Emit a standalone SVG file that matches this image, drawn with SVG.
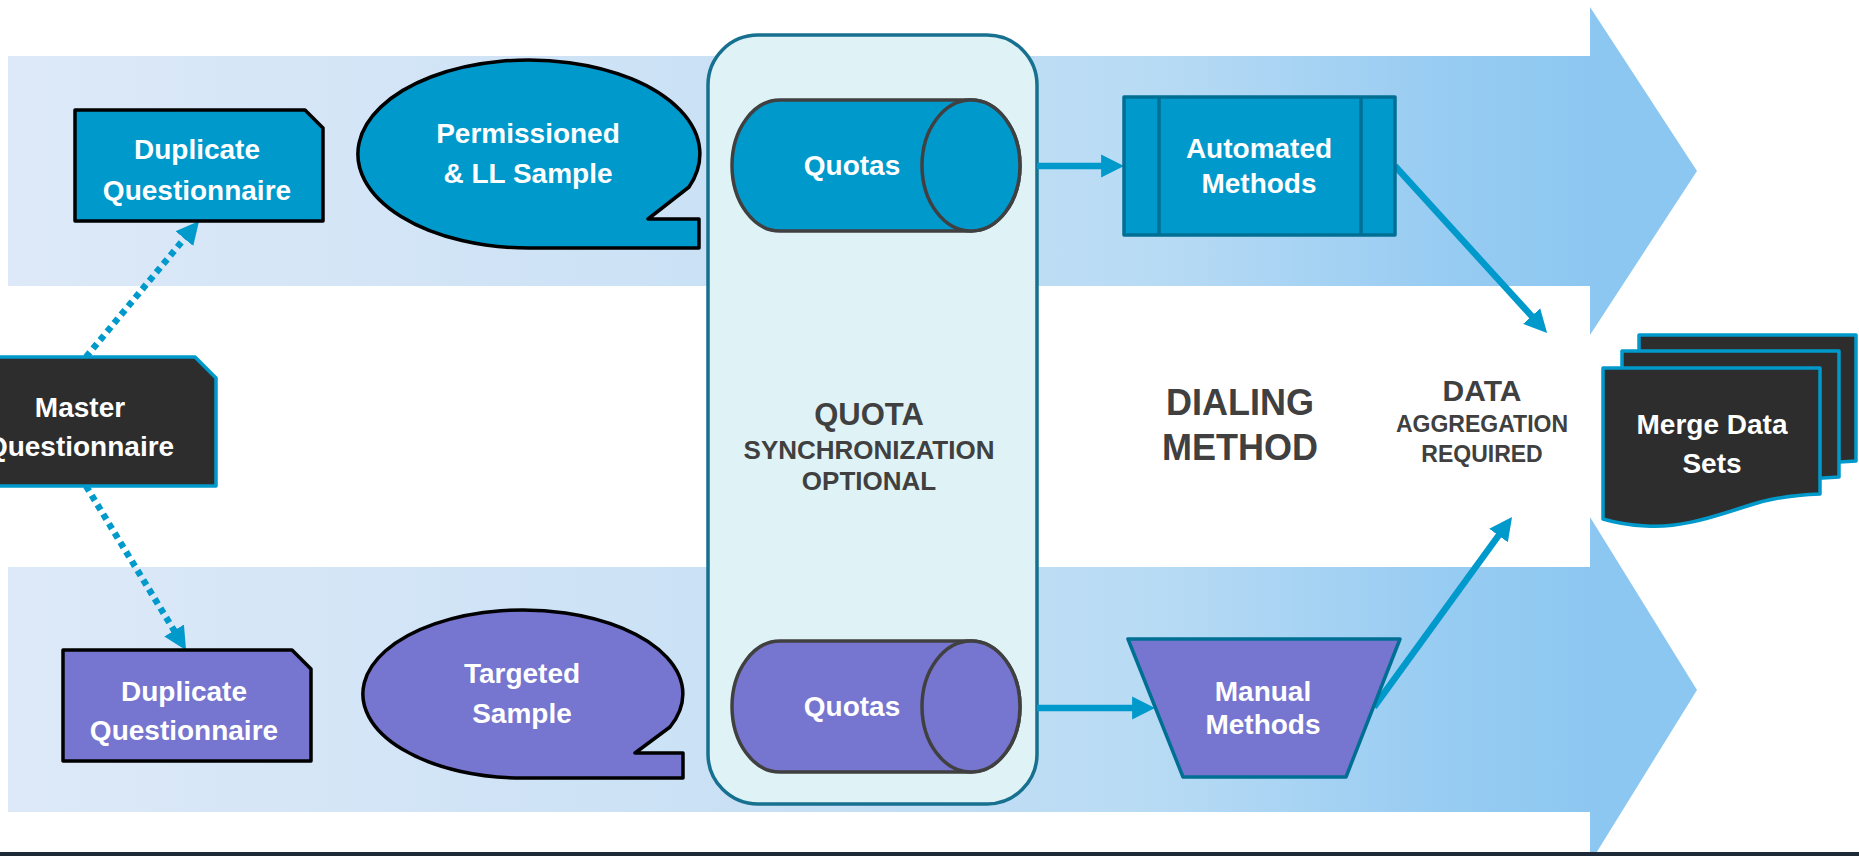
<svg xmlns="http://www.w3.org/2000/svg" width="1859" height="856" viewBox="0 0 1859 856">
<defs>
<linearGradient id="band" gradientUnits="userSpaceOnUse" x1="8" y1="0" x2="1600" y2="0">
<stop offset="0" stop-color="#dde9f8"/>
<stop offset="0.45" stop-color="#cae1f5"/>
<stop offset="0.72" stop-color="#b8dbf4"/>
<stop offset="0.9" stop-color="#98ccf2"/>
<stop offset="1" stop-color="#8cc7f1"/>
</linearGradient>
<marker id="ah" viewBox="0 0 10 10" refX="5.6" refY="5" markerWidth="23" markerHeight="24" markerUnits="userSpaceOnUse" orient="auto">
<path d="M0,0 L10,5 L0,10 Z" fill="#0099cc"/>
</marker>
</defs>
<style>
.lbl{font-family:"Liberation Sans",Arial,sans-serif;font-weight:bold;font-size:28px;fill:#ffffff;text-anchor:middle}
.dk{font-family:"Liberation Sans",Arial,sans-serif;font-weight:bold;fill:#404040;text-anchor:middle}
.blue{fill:#0099cc}
.purple{fill:#7675cf}
.blk{stroke:#000000;stroke-width:3.5;stroke-linejoin:round}
.cyl{stroke:#404040;stroke-width:3.5}
.teal{stroke:#006f94;stroke-width:3.5;stroke-linejoin:round}
.doc{fill:#2d2d2d;stroke:#0099cc;stroke-width:3.5;stroke-linejoin:round}
.dot{stroke:#0099cc;stroke-width:6.5;stroke-dasharray:6 5;fill:none}
.sol{stroke:#0099cc;stroke-width:6.5;fill:none}
</style>
<rect x="0" y="0" width="1859" height="856" fill="#ffffff"/>
<g id="band-top">
<polygon points="8,56 1590,56 1590,7 1697,171 1590,335 1590,286 8,286" fill="url(#band)"/>
</g>
<g id="band-bottom">
<polygon points="8,567 1590,567 1590,517 1697,690 1590,863 1590,812 8,812" fill="url(#band)"/>
</g>
<rect x="0" y="852" width="1859" height="4" fill="#1e2a38"/>
<g id="quota-sync">
<rect x="708" y="35" width="329" height="769" rx="50" ry="50" fill="#dff3f6" stroke="#17708f" stroke-width="3.5"/>
<text class="dk" x="869" y="425" font-size="31">QUOTA</text>
<text class="dk" x="869" y="459" font-size="26">SYNCHRONIZATION</text>
<text class="dk" x="869" y="490" font-size="26">OPTIONAL</text>
</g>
<g id="dialing-method">
<text class="dk" x="1240" y="415" font-size="36">DIALING</text>
<text class="dk" x="1240" y="460" font-size="36">METHOD</text>
</g>
<g id="data-aggregation">
<text class="dk" x="1482" y="401" font-size="30">DATA</text>
<text class="dk" x="1482" y="432" font-size="23">AGGREGATION</text>
<text class="dk" x="1482" y="462" font-size="23">REQUIRED</text>
</g>
<g id="connectors">
<line class="dot" x1="86" y1="357" x2="192.6" y2="228.7" marker-end="url(#ah)"/>
<line class="dot" x1="86" y1="486" x2="180.8" y2="641.5" marker-end="url(#ah)"/>
<line class="sol" x1="1037" y1="166" x2="1114" y2="166" marker-end="url(#ah)"/>
<line class="sol" x1="1037" y1="708" x2="1145" y2="708" marker-end="url(#ah)"/>
<line class="sol" x1="1395" y1="166" x2="1540.3" y2="325.6" marker-end="url(#ah)"/>
<line class="sol" x1="1374" y1="707" x2="1506.1" y2="525.1" marker-end="url(#ah)"/>
</g>
<g id="master-questionnaire">
<path class="doc" d="M-56,357 H195 L216,378 V486 H-56 Z"/>
<text class="lbl" x="80" y="417">Master</text>
<text class="lbl" x="80" y="456">Questionnaire</text>
</g>
<g id="duplicate-top">
<path class="blue blk" d="M75,110 H305 L323,128 V221 H75 Z"/>
<text class="lbl" x="197" y="159">Duplicate</text>
<text class="lbl" x="197" y="200">Questionnaire</text>
</g>
<g id="duplicate-bottom">
<path class="purple blk" d="M63,650 H292 L311,669 V761 H63 Z"/>
<text class="lbl" x="184" y="701">Duplicate</text>
<text class="lbl" x="184" y="740">Questionnaire</text>
</g>
<g id="sample-permissioned">
<path class="blue blk" d="M529,248 A171,94 0 1,1 689,187 L648,219 L699,219 L699,248 Z"/>
<text class="lbl" x="528" y="143">Permissioned</text>
<text class="lbl" x="528" y="183">&amp; LL Sample</text>
</g>
<g id="sample-targeted">
<path class="purple blk" d="M523,778 A160,84 0 1,1 670,727 L635,753 L683,753 L683,778 Z"/>
<text class="lbl" x="522" y="683">Targeted</text>
<text class="lbl" x="522" y="723">Sample</text>
</g>
<g id="quotas-top">
<path class="blue cyl" d="M780,100 H971 A49,65.5 0 0,1 971,231 H780 A48,65.5 0 0,1 780,100 Z"/>
<ellipse class="blue cyl" cx="971" cy="165.5" rx="49" ry="65.5"/>
<text class="lbl" x="852" y="175">Quotas</text>
</g>
<g id="quotas-bottom">
<path class="purple cyl" d="M780,641 H971 A49,65.5 0 0,1 971,772 H780 A48,65.5 0 0,1 780,641 Z"/>
<ellipse class="purple cyl" cx="971" cy="706.5" rx="49" ry="65.5"/>
<text class="lbl" x="852" y="716">Quotas</text>
</g>
<g id="automated-methods">
<rect class="blue teal" x="1124" y="97" width="271" height="138"/>
<line class="teal" x1="1159" y1="97" x2="1159" y2="235"/>
<line class="teal" x1="1361" y1="97" x2="1361" y2="235"/>
<text class="lbl" x="1259" y="158">Automated</text>
<text class="lbl" x="1259" y="193">Methods</text>
</g>
<g id="manual-methods">
<path class="purple teal" d="M1128,639 H1400 L1346,777 H1183 Z"/>
<text class="lbl" x="1263" y="701">Manual</text>
<text class="lbl" x="1263" y="734">Methods</text>
</g>
<g id="merge-data-sets">
<path class="doc" d="M1639,335 H1856 V461 C1823,462 1800,467 1780,474 C1740,487 1712,495 1682,493 C1662,492 1649,489 1639,486 Z"/>
<path class="doc" d="M1622,351 H1839 V477 C1806,478 1783,483 1763,490 C1723,503 1695,511 1665,509 C1645,508 1632,505 1622,502 Z"/>
<path class="doc" d="M1603,368 H1820 V494 C1787,495 1764,500 1744,507 C1704,520 1676,528 1646,526 C1626,525 1613,522 1603,519 Z"/>
<text class="lbl" x="1712" y="434">Merge Data</text>
<text class="lbl" x="1712" y="473">Sets</text>
</g>
</svg>
